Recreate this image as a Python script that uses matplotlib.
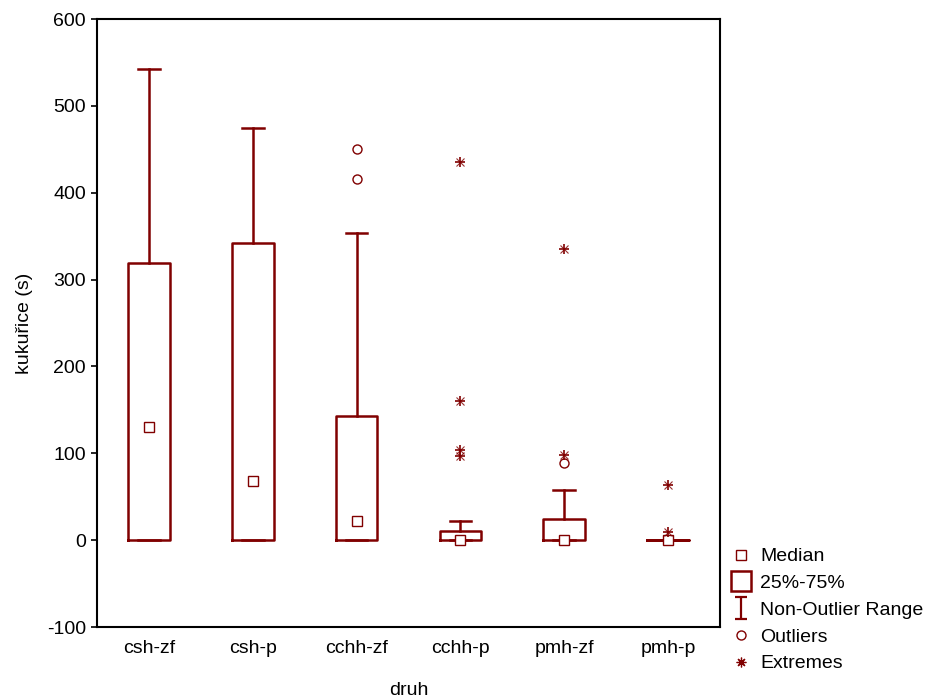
import matplotlib
matplotlib.use("Agg")
import matplotlib.pyplot as plt
from matplotlib.lines import Line2D
from matplotlib.path import Path
import numpy as np

plt.rcParams['font.family'] = ['Liberation Sans', 'DejaVu Sans']
plt.rcParams['axes.unicode_minus'] = False

# data
groups = ["csh-zf", "csh-p", "cchh-zf", "cchh-p", "pmh-zf", "pmh-p"]
medians = [130, 68, 22, 0, 0, 0]
q1 = [0, 0, 0, 0, 0, 0]
q3 = [319, 342, 143, 11, 24, 0]
whis_lo = [0, 0, 0, 0, 0, 0]
whis_hi = [542, 474, 354, 22, 58, 0]
outliers = {"cchh-zf": [450, 416], "pmh-zf": [89]}
extremes = {"cchh-p": [435, 160, 104, 97], "pmh-zf": [335, 98], "pmh-p": [63, 9]}

col = "#800000"

fig = plt.figure(figsize=(9.38, 6.99), dpi=100)
ax = fig.add_axes([0.1034, 0.1030, 0.6642, 0.8698])

stats = []
for i, g in enumerate(groups):
    stats.append(dict(label=g, med=medians[i], q1=q1[i], q3=q3[i],
                      whislo=whis_lo[i], whishi=whis_hi[i], mean=medians[i], fliers=[]))

pos = np.arange(len(groups))
ax.bxp(stats, positions=pos, widths=0.4, capwidths=0.21, showfliers=False, showmeans=True,
       boxprops=dict(color=col, linewidth=1.8),
       whiskerprops=dict(color=col, linewidth=1.8),
       capprops=dict(color=col, linewidth=1.8),
       medianprops=dict(linewidth=0),
       meanprops=dict(marker='s', markersize=6.5, markerfacecolor='white',
                      markeredgecolor=col, markeredgewidth=1.0),
       zorder=2)

for g, vals in outliers.items():
    x = np.full(len(vals), groups.index(g))
    ax.plot(x, vals, 'o', ms=6.5, mfc='none', mec=col, mew=1.0, zorder=3)
for g, vals in extremes.items():
    x = np.full(len(vals), groups.index(g))
    ax.plot(x, vals, '+', ms=7.5, mec=col, mew=1.2, zorder=3)
    ax.plot(x, vals, 'x', ms=5.5, mec=col, mew=0.8, alpha=0.8, zorder=3)

ax.set_xlim(-0.5, len(groups) - 0.5)
ax.set_ylim(-100, 600)
ax.set_yticks(np.arange(-100, 601, 100))
ax.set_xticks(pos)
ax.set_xticklabels(groups)
ax.tick_params(axis='y', direction='out', length=4, width=1.2, labelsize=14, pad=4)
ax.tick_params(axis='x', length=0, labelsize=14, pad=9)
for s in ax.spines.values():
    s.set_linewidth(1.5)
ax.set_xlabel("druh", fontsize=14, labelpad=18)
ax.set_ylabel("kukuřice (s)", fontsize=14, labelpad=10)

# legend
range_marker = Path([(-0.5, 1), (0.5, 1), (0, 1), (0, -1), (-0.5, -1), (0.5, -1)],
                    [Path.MOVETO, Path.LINETO, Path.MOVETO, Path.LINETO, Path.MOVETO, Path.LINETO])
handles = [
    Line2D([], [], ls='none', marker='s', ms=6.5, mfc='white', mec=col, mew=1.0),
    Line2D([], [], ls='none', marker='s', ms=15, mfc='white', mec=col, mew=1.8),
    Line2D([], [], ls='none', marker=range_marker, ms=16, mec=col, mew=1.6),
    Line2D([], [], ls='none', marker='o', ms=6.5, mfc='none', mec=col, mew=1.0),
    Line2D([], [], ls='none', marker=(8, 2, 0), ms=7, mec=col, mew=0.9),
]
labels = ["Median", "25%-75%", "Non-Outlier Range", "Outliers", "Extremes"]
fig.legend(handles, labels, loc='upper left', bbox_to_anchor=(0.771, 0.2275),
           frameon=False, fontsize=14, handlelength=1.0, handletextpad=0.5,
           labelspacing=0.47, borderaxespad=0)

fig.savefig("out.png", dpi=100)
